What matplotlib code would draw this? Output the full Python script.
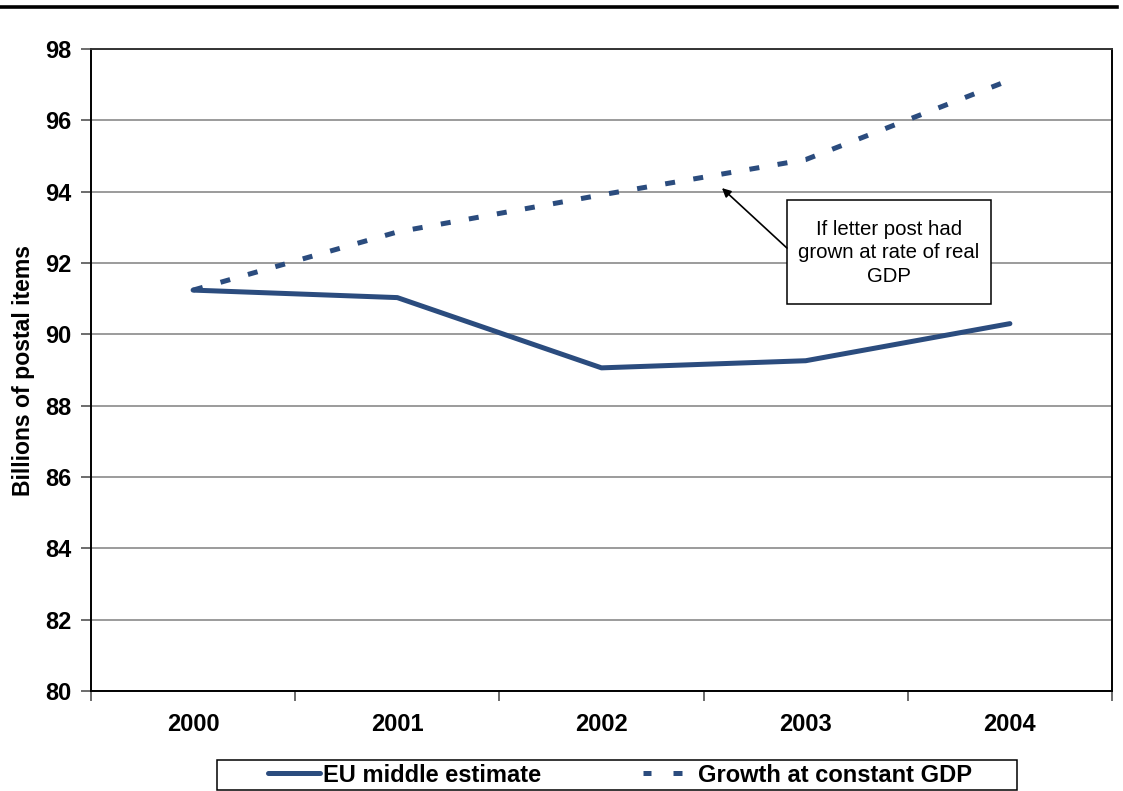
import matplotlib
matplotlib.use("Agg")
import matplotlib.pyplot as plt
from matplotlib.lines import Line2D
from matplotlib.patches import Rectangle

years = ["2000", "2001", "2002", "2003", "2004"]
eu_middle = [91.24, 91.03, 89.06, 89.26, 90.30]
constant_gdp = [91.24, 92.87, 93.91, 94.90, 97.13]
y_ticks = [80, 82, 84, 86, 88, 90, 92, 94, 96, 98]
note_text = "If letter post had\ngrown at rate of real\nGDP"

navy = "#2B4C7E"
LW = 3.6
plt.rcParams["font.family"] = ["Liberation Sans", "DejaVu Sans"]

W, H = 1123, 791
fig = plt.figure(figsize=(W / 100, H / 100), dpi=100)
ax = fig.add_axes([91 / W, 1 - 691 / H, (1112 - 91) / W, (691 - 49) / H])

x = list(range(len(years)))
ax.plot(x, eu_middle, color=navy, lw=LW, solid_capstyle="round",
        solid_joinstyle="round", zorder=3)
ax.plot(x, constant_gdp, color=navy, lw=LW, linestyle=(0, (2.0, 3.7)),
        dash_capstyle="butt", zorder=3)

ax.set_xlim(-0.5, 4.5)
ax.set_ylim(80, 98)
ax.set_yticks(y_ticks)
ax.set_yticklabels([str(v) for v in y_ticks], fontsize=17, fontweight="bold")
ax.yaxis.grid(True, color="#808080", lw=1.1)
ax.set_axisbelow(True)

# tick marks sit on the category boundaries, labels on the centres
ax.set_xticks([i - 0.5 for i in range(len(years) + 1)])
ax.set_xticklabels([])
ax.set_xticks(x, minor=True)
ax.set_xticklabels(years, minor=True, fontsize=17, fontweight="bold")
ax.tick_params(axis="x", which="major", direction="out", length=7, width=1.1, color="#444444")
ax.tick_params(axis="x", which="minor", length=0, pad=16)
ax.tick_params(axis="y", direction="out", length=7, width=1.1, color="#444444", pad=7)

for side in ["left", "bottom", "right", "top"]:
    ax.spines[side].set_color("black")
    ax.spines[side].set_linewidth(1.4)
ax.spines["top"].set_color("#333333")

ax.set_ylabel("Billions of postal items", fontsize=16.6, fontweight="bold", labelpad=7)

# note box with an arrow to the constant-GDP line
box_x0, box_x1 = 2.908, 3.907
box_y0, box_y1 = 90.85, 93.77
ax.add_patch(Rectangle((box_x0, box_y0), box_x1 - box_x0, box_y1 - box_y0,
                       fc="white", ec="black", lw=1.1, zorder=5))
ax.text((box_x0 + box_x1) / 2, (box_y0 + box_y1) / 2 - 0.02, note_text,
        ha="center", va="center", fontsize=14.7, linespacing=1.3, zorder=6)
ax.annotate("", xy=(2.59, 94.10), xytext=(box_x0, 92.42),
            arrowprops=dict(arrowstyle="-|>", color="black", lw=1.2,
                            mutation_scale=13, shrinkA=0, shrinkB=0),
            zorder=6)

# heavy rule across the top of the page
fig.add_artist(Line2D([0, 1117 / W], [1 - 6.7 / H, 1 - 6.7 / H],
                      color="black", lw=2.6, transform=fig.transFigure))

# legend: frameless entries inside a hand-drawn frame
handles = [Line2D([], [], color=navy, lw=LW, solid_capstyle="round"),
           Line2D([], [], color=navy, lw=LW, linestyle=(0, (1.6, 4.4, 1.8, 6.0)),
                  dash_capstyle="butt")]
fig.legend(handles, ["EU middle estimate", "Growth at constant GDP"],
           loc="center left", bbox_to_anchor=(268 / W, 1 - 775 / H),
           ncol=2, frameon=False, prop={"size": 17, "weight": "bold"},
           handlelength=2.2, handletextpad=0.13, columnspacing=4.3,
           borderpad=0, borderaxespad=0)
fig.add_artist(Rectangle((217 / W, 1 - 790 / H), (1017 - 217) / W, 30 / H,
                         transform=fig.transFigure, fc="none", ec="black", lw=1.1))

fig.savefig("out.png", dpi=100, facecolor="white")
